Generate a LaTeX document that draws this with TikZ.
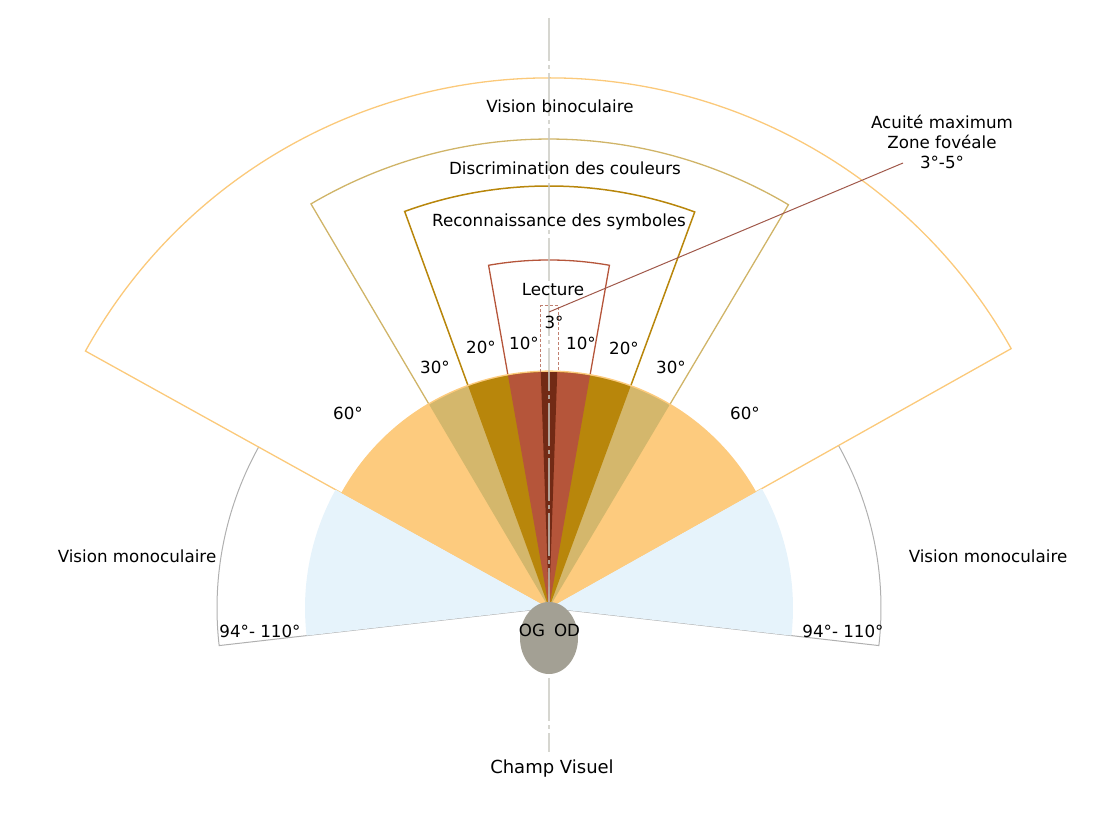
\documentclass[tikz,border=0pt]{standalone}
\usepackage{fontspec}
\setmainfont{DejaVu Sans}
\definecolor{bluefill}{RGB}{230,243,251}
\definecolor{orangefill}{RGB}{253,203,126}
\definecolor{orangeline}{RGB}{251,201,122}
\definecolor{tanfill}{RGB}{212,183,108}
\definecolor{tanline}{RGB}{208,180,104}
\definecolor{gold}{RGB}{184,134,11}
\definecolor{lect}{RGB}{181,85,58}
\definecolor{darkbr}{RGB}{114,42,21}
\definecolor{eyec}{RGB}{163,160,148}
\definecolor{leaderc}{RGB}{160,88,74}
\definecolor{boxc}{RGB}{192,128,112}
\definecolor{axisc}{RGB}{200,200,192}
\definecolor{monoc}{RGB}{176,176,176}
\begin{document}
\begin{tikzpicture}[x=1pt,y=1pt,
  lbl/.style={font=\fontsize{16.7}{20}\selectfont, inner sep=0pt, text=black},
  wedgeline/.style={line width=1.3pt, line join=miter},
  axisline/.style={draw=axisc, line width=2pt, opacity=0.75, dash pattern=on 43pt off 4pt on 4pt off 4pt}]
\useasboundingbox (0,0) rectangle (1100,825);
\coordinate (A) at (549,217);

% monocular outlines
\draw[monoc, line width=1pt] (A) -- ++(186.5:332) arc[start angle=186.5, end angle=151, radius=332];
\draw[monoc, line width=1pt] (A) -- ++(-6.5:332) arc[start angle=-6.5, end angle=29.3, radius=332];

% wedge outlines
\draw[wedgeline, draw=orangeline] (A) -- ++(151:530) arc[start angle=151, end angle=29.3, radius=530] -- cycle;
\draw[wedgeline, draw=tanline] (A) -- ++(120.5:469) arc[start angle=120.5, end angle=59.3, radius=469] -- cycle;
\draw[wedgeline, draw=gold, line width=1.5pt] (A) -- ++(110:422) arc[start angle=110, end angle=69.8, radius=422] -- cycle;
\draw[wedgeline, draw=lect] (A) -- ++(100:348) arc[start angle=100, end angle=80, radius=348] -- cycle;

% fills
\fill[bluefill] (A) -- ++(151:244) arc[start angle=151, end angle=186.5, radius=244] -- cycle;
\fill[bluefill] (A) -- ++(29.3:244) arc[start angle=29.3, end angle=-6.5, radius=244] -- cycle;
\fill[orangefill] (A) -- ++(151:237.5) arc[start angle=151, end angle=29.3, radius=237.5] -- cycle;
\fill[tanfill] (A) -- ++(120.5:236) arc[start angle=120.5, end angle=59.3, radius=236] -- cycle;
\fill[gold] (A) -- ++(110:236) arc[start angle=110, end angle=69.8, radius=236] -- cycle;
\fill[lect] (A) -- ++(100:236) arc[start angle=100, end angle=80, radius=236] -- cycle;
\fill[darkbr] (A) -- ++(92:236) arc[start angle=92, end angle=88, radius=236] -- cycle;

% 3 degree dashed box
\draw[boxc, line width=1pt, dash pattern=on 3pt off 2pt] (540.5,453) -- (540.5,519) -- (558,519) -- (558,453);

% axis
\draw[axisline] (549,807) -- (549,73);

% eye
\fill[eyec] (549,187) ellipse[x radius=29, y radius=36];

% leader
\coordinate (fov) at (549,513);
\coordinate (annotend) at (903,662);
\draw[leaderc, line width=1pt] (fov) -- (annotend);

% labels
\node[lbl] (bino) at (560,719) {Vision binoculaire};
\node[lbl] (coul) at (565,657) {Discrimination des couleurs};
\node[lbl] (symb) at (559,603) {Reconnaissance des symboles};
\node[lbl] (lect) at (553,535) {Lecture};
\node[lbl] (d3) at (554,503) {3°};
\node[lbl] (d10l) at (524,482) {10°};
\node[lbl] (d10r) at (581,482) {10°};
\node[lbl] (d20l) at (481,478) {20°};
\node[lbl] (d20r) at (624,477) {20°};
\node[lbl] (d30l) at (435,458) {30°};
\node[lbl] (d30r) at (671,458) {30°};
\node[lbl] (d60l) at (348,412) {60°};
\node[lbl] (d60r) at (745,412) {60°};
\node[lbl] (monol) at (137,269) {Vision monoculaire};
\node[lbl] (monor) at (988,269) {Vision monoculaire};
\node[lbl] (d94l) at (260,194) {94°- 110°};
\node[lbl] (d94r) at (843,194) {94°- 110°};
\node[lbl] (og) at (532,195) {OG};
\node[lbl] (od) at (567,195) {OD};
\node[lbl, font=\fontsize{18}{22}\selectfont] (cv) at (552,56) {Champ Visuel};
\node[lbl, align=center] (annot) at (942,683) {Acuité maximum\\Zone fovéale\\3°-5°};
\end{tikzpicture}
\end{document}
